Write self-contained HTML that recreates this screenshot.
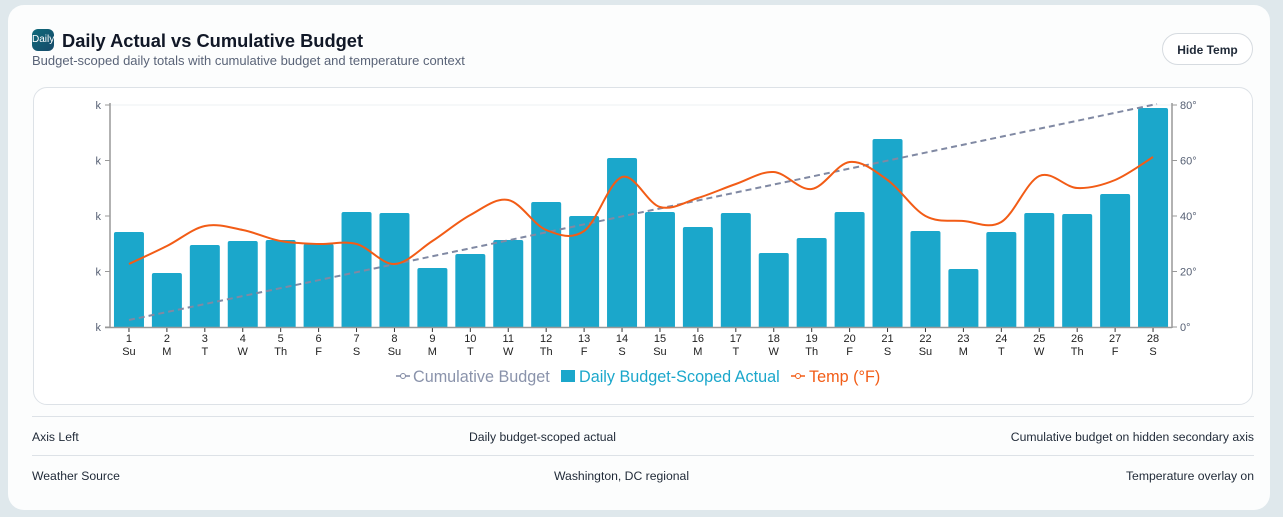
<!DOCTYPE html>
<html><head><meta charset="utf-8"><style>
body{margin:0;width:1283px;height:517px;background:#dfe8ec;font-family:"Liberation Sans",sans-serif;overflow:hidden;position:relative}
.card{position:absolute;left:8px;top:5px;width:1262px;height:505px;background:#fcfdfd;border-radius:16px}
.icon{position:absolute;left:32px;top:29px;width:22px;height:22px;border-radius:6px;background:linear-gradient(135deg,#0e6a7a,#174a6a);color:#fff;font-size:10px;line-height:22px;text-align:center;overflow:hidden}
.title{position:absolute;left:62px;top:30px;font-size:18.3px;font-weight:bold;color:#111827}
.sub{position:absolute;left:32px;top:53px;font-size:13px;color:#5a6478}
.btn{position:absolute;left:1162px;top:33px;width:91px;height:32px;border:1px solid #d6dbe0;border-radius:17px;background:#fff;font-size:12px;font-weight:bold;color:#1f2937;text-align:center;line-height:32px;box-sizing:border-box}
.chart{position:absolute;left:33px;top:87px;width:1220px;height:318px;border:1px solid #dde2e7;border-radius:14px;box-sizing:border-box;background:#fff}
.row{position:absolute;left:32px;width:1222px;border-top:1px solid #dde2e7;font-size:12.2px;color:#1f2937;height:38px;line-height:40px}
.row span{position:absolute}
svg{position:absolute;left:0;top:0}
</style></head><body>
<div class="card"></div>
<div class="icon">Daily</div>
<div class="title">Daily Actual vs Cumulative Budget</div>
<div class="sub">Budget-scoped daily totals with cumulative budget and temperature context</div>
<div class="btn">Hide Temp</div>
<div class="chart"></div>
<div class="row" style="top:416px"><span style="left:0">Axis Left</span><span style="left:437px">Daily budget-scoped actual</span><span style="right:0">Cumulative budget on hidden secondary axis</span></div>
<div class="row" style="top:455px"><span style="left:0">Weather Source</span><span style="left:522px">Washington, DC regional</span><span style="right:0">Temperature overlay on</span></div>
<svg id="s" width="1283" height="517" font-family="Liberation Sans, sans-serif"></svg>
<script>
var s=document.getElementById('s'),h='';
var bars=[232,273,245,241,240,244,212,213,268,254,240,202,216,158,212,227,213,253,238,212,139,231,269,232,213,214,194,108];
var temp=[264,246,226,230,241,244,244,264,241,215,200,230,231,177,207,198,184,172,189,162,180,216,221,222,176,188,180,157];
var days=['Su','M','T','W','Th','F','S'];
var bw=(1172-110)/28;
h+='<line x1="110" y1="105" x2="1172" y2="105" stroke="#eef0f3"/>';
for(var i=0;i<28;i++){var cx=110+bw*(i+0.5),t=bars[i];
h+='<path d="M'+(cx-15)+' 327V'+(t+2)+'q0 -2 2 -2h26q2 0 2 2V327Z" fill="#1ba7cb"/>';
h+='<line x1="'+cx+'" y1="327" x2="'+cx+'" y2="332" stroke="#333"/>';
h+='<text x="'+cx+'" y="342" font-size="11" text-anchor="middle" fill="#222">'+(i+1)+'</text>';
h+='<text x="'+cx+'" y="355" font-size="11" text-anchor="middle" fill="#222">'+days[i%7]+'</text>';}
h+='<line x1="110" y1="103" x2="110" y2="328" stroke="#999" stroke-width="1.5"/><line x1="105" y1="327.5" x2="1172" y2="327.5" stroke="#999" stroke-width="1.5"/>';
h+='<line x1="1172" y1="103" x2="1172" y2="328" stroke="#999" stroke-width="1.5"/>';
var lab=['80°','60°','40°','20°','0°'];
for(var k=0;k<5;k++){var y=105+k*55.5;
h+='<line x1="105" y1="'+y+'" x2="110" y2="'+y+'" stroke="#999"/><text x="101" y="'+(y+4)+'" font-size="11" text-anchor="end" fill="#555f73">k</text>';
h+='<line x1="1172" y1="'+y+'" x2="1177" y2="'+y+'" stroke="#999"/><text x="1180" y="'+(y+4)+'" font-size="11" fill="#555f73">'+lab[k]+'</text>';}
h+='<line x1="129" y1="320" x2="1157" y2="104" stroke="#8089a3" stroke-width="2" stroke-dasharray="6,4"/>';
var p=temp.map(function(v,i){return [110+bw*(i+0.5),v]});
var d='M'+p[0][0]+' '+p[0][1];
for(var i=0;i<p.length-1;i++){var p0=p[Math.max(i-1,0)],p1=p[i],p2=p[i+1],p3=p[Math.min(i+2,p.length-1)];
d+=' C'+(p1[0]+(p2[0]-p0[0])/6)+' '+(p1[1]+(p2[1]-p0[1])/6)+' '+(p2[0]-(p3[0]-p1[0])/6)+' '+(p2[1]-(p3[1]-p1[1])/6)+' '+p2[0]+' '+p2[1];}
h+='<path d="'+d+'" fill="none" stroke="#f25c16" stroke-width="2"/>';
h+='<line x1="396" y1="376" x2="410" y2="376" stroke="#8089a3" stroke-width="1.5"/><circle cx="403" cy="376" r="2.5" fill="#fff" stroke="#8089a3"/>';
h+='<text x="413" y="382" font-size="16.2" fill="#8a93ab">Cumulative Budget</text>';
h+='<rect x="561" y="370" width="14" height="12" fill="#1ba7cb"/><text x="579" y="382" font-size="16.2" fill="#1ba7cb">Daily Budget-Scoped Actual</text>';
h+='<line x1="791" y1="376" x2="805" y2="376" stroke="#f25c16" stroke-width="1.5"/><circle cx="798" cy="376" r="2.5" fill="#fff" stroke="#f25c16"/>';
h+='<text x="809" y="382" font-size="16.2" fill="#f25c16">Temp (°F)</text>';
s.innerHTML=h;
</script>
</body></html>
